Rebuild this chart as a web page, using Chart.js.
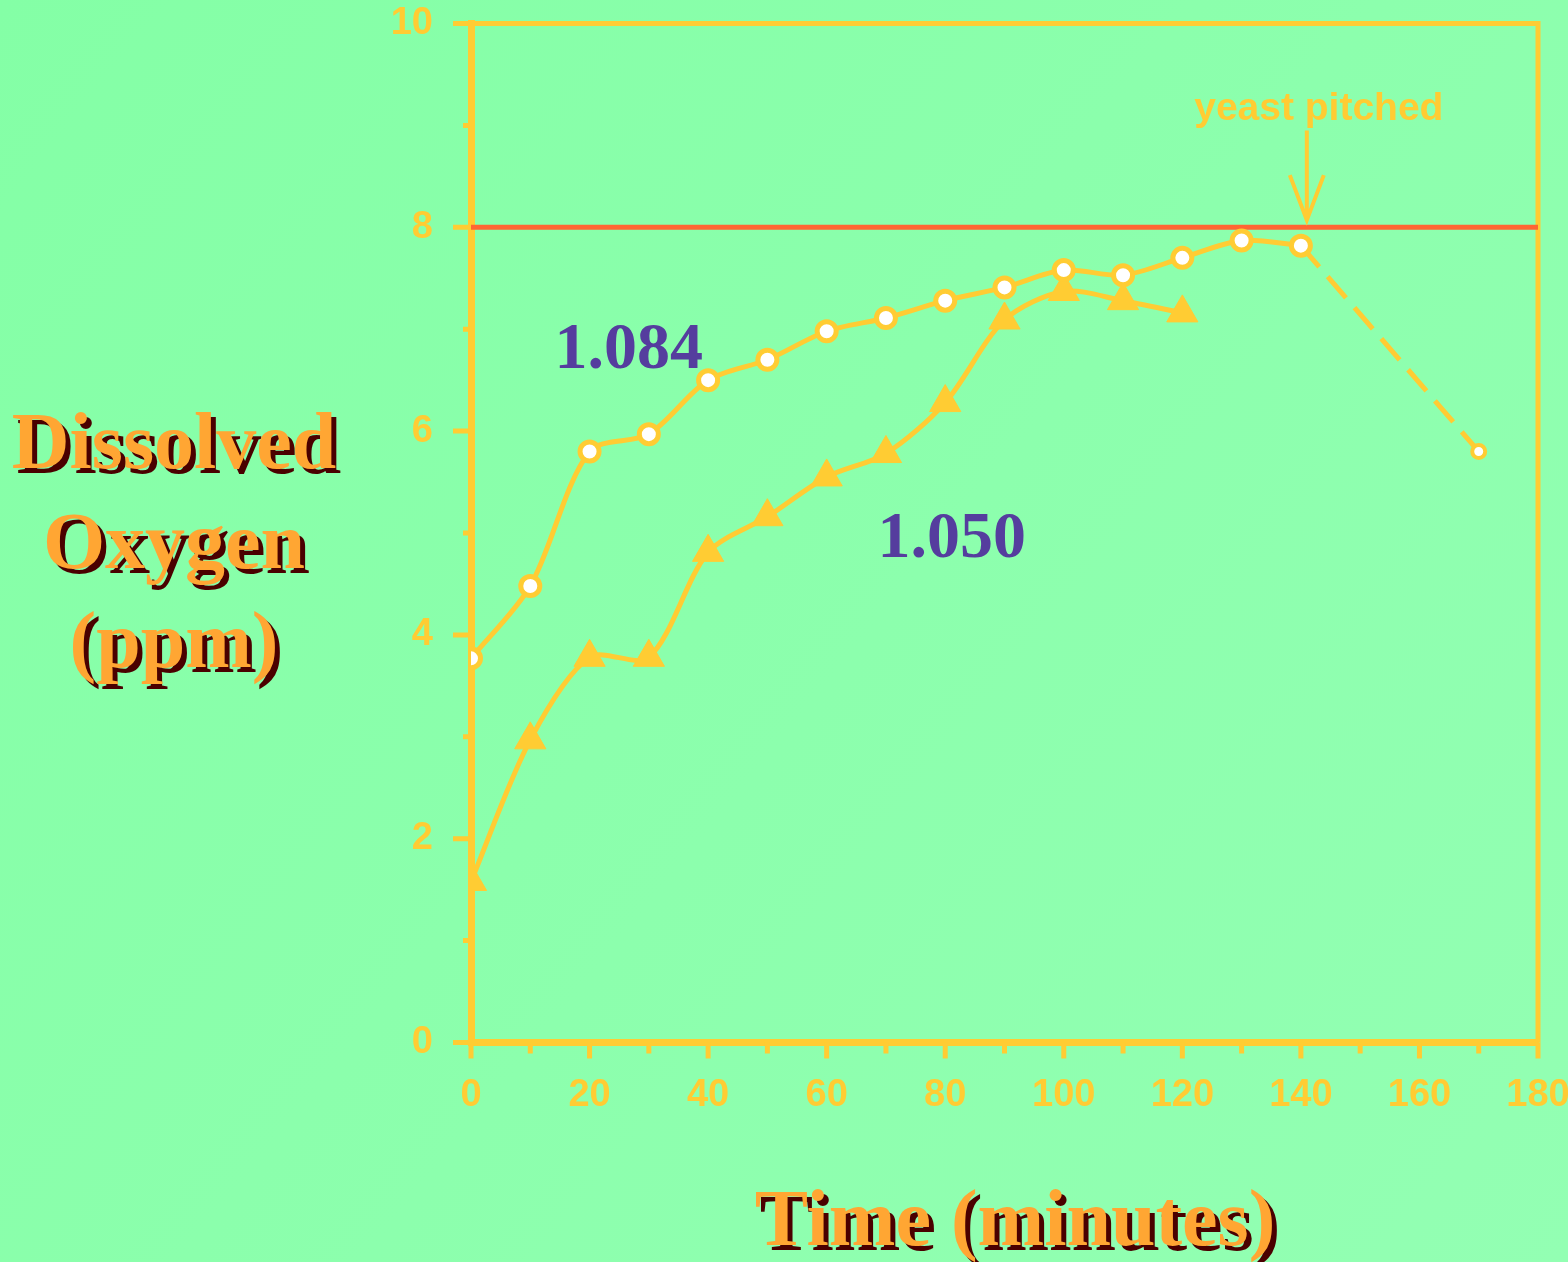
<!DOCTYPE html>
<html>
<head>
<meta charset="utf-8">
<script src="https://cdn.jsdelivr.net/npm/chart.js@4/dist/chart.umd.min.js"></script>
<style>
  html, body { margin: 0; padding: 0; background: #88ffa8; overflow: hidden; }
  canvas { display: block; }
</style>
</head>
<body>
<canvas id="c" width="1568" height="1262"></canvas>
<script>
// Dissolved oxygen during wort aeration, two worts (OG 1.084 and 1.050)
const minutes1084 = [0, 10, 20, 30, 40, 50, 60, 70, 80, 90, 100, 110, 120, 130, 140];
const oxygen1084  = [3.77, 4.48, 5.80, 5.97, 6.50, 6.70, 6.98, 7.11, 7.28, 7.41, 7.58, 7.53, 7.70, 7.87, 7.82];
// after pitching (1.084 wort)
const minutesPitched = [140, 170];
const oxygenPitched  = [7.82, 5.80];
const minutes1050 = [0, 10, 20, 30, 40, 50, 60, 70, 80, 90, 100, 110, 120];
const oxygen1050  = [1.58, 2.97, 3.78, 3.78, 4.81, 5.16, 5.55, 5.78, 6.28, 7.09, 7.37, 7.28, 7.16];
// saturation level
const saturationMinutes = [0, 180];
const saturationLevel   = [8, 8];

const xTickValues = [0, 20, 40, 60, 80, 100, 120, 140, 160, 180];
const xMinorTicks = [10, 30, 50, 70, 90, 110, 130, 150, 170];
const yTickValues = [0, 2, 4, 6, 8, 10];
const yMinorTicks = [1, 3, 5, 7, 9];

const seriesLabels = [
  { text: '1.084', x: 26.6, y: 6.62 },
  { text: '1.050', x: 81.1, y: 4.76 }
];
const pitchNote = { text: 'yeast pitched', x: 141, yText: 9.05, yFrom: 8.95, yTo: 8.07 };
const yTitle = ['Dissolved', 'Oxygen', '(ppm)'];
const xTitle = 'Time (minutes)';

const AXIS = '#ffcc33';
const RED = '#ff6633';
const TITLE = '#ffa633';
const SHADOW = '#4a0000';
const PURPLE = '#553d9e';
const SANS = '"Liberation Sans", Arial, sans-serif';
const SERIF = '"Liberation Serif", "Times New Roman", serif';

const pts = (xs, ys) => xs.map((x, i) => ({ x, y: ys[i] }));

const background = {
  id: 'background',
  beforeDraw(chart) {
    const { ctx, width, height } = chart;
    const g = ctx.createLinearGradient(0, 0, width, height);
    g.addColorStop(0, '#84ffa6');
    g.addColorStop(1, '#93ffb3');
    ctx.save();
    ctx.fillStyle = g;
    ctx.fillRect(0, 0, width, height);
    ctx.restore();
  }
};

const frame = {
  id: 'frame',
  beforeDatasetsDraw(chart) {
    const { ctx, chartArea: a } = chart;
    ctx.save();
    ctx.strokeStyle = AXIS;
    ctx.lineWidth = 5;
    ctx.beginPath();
    ctx.moveTo(a.left, a.top);
    ctx.lineTo(a.right, a.top);
    ctx.lineTo(a.right, a.bottom);
    ctx.stroke();
    // tick marks, long at labelled values, short in between
    const xs = chart.scales.x, ys = chart.scales.y;
    ctx.beginPath();
    xTickValues.forEach(v => { const p = xs.getPixelForValue(v); ctx.moveTo(p, a.bottom); ctx.lineTo(p, a.bottom + 16); });
    xMinorTicks.forEach(v => { const p = xs.getPixelForValue(v); ctx.moveTo(p, a.bottom); ctx.lineTo(p, a.bottom + 11); });
    yTickValues.forEach(v => { const p = ys.getPixelForValue(v); ctx.moveTo(a.left, p); ctx.lineTo(a.left - 18, p); });
    yMinorTicks.forEach(v => { const p = ys.getPixelForValue(v); ctx.moveTo(a.left, p); ctx.lineTo(a.left - 8, p); });
    ctx.stroke();
    ctx.restore();
  }
};

function shadowText(ctx, text, x, y) {
  ctx.fillStyle = SHADOW;
  ctx.fillText(text, x + 5, y + 5);
  ctx.fillStyle = TITLE;
  ctx.fillText(text, x, y);
}

const annotations = {
  id: 'annotations',
  afterDraw(chart) {
    const { ctx } = chart;
    const xs = chart.scales.x, ys = chart.scales.y;
    ctx.save();
    // series labels
    ctx.font = 'bold 66px ' + SERIF;
    ctx.fillStyle = PURPLE;
    ctx.textAlign = 'center';
    ctx.textBaseline = 'alphabetic';
    seriesLabels.forEach(l => ctx.fillText(l.text, xs.getPixelForValue(l.x), ys.getPixelForValue(l.y)));

    // pitching note with arrow
    const ax = xs.getPixelForValue(pitchNote.x);
    ctx.font = 'bold 39px ' + SANS;
    ctx.fillStyle = AXIS;
    ctx.fillText(pitchNote.text, ax + 12, ys.getPixelForValue(pitchNote.yText));
    const y0 = ys.getPixelForValue(pitchNote.yFrom), y1 = ys.getPixelForValue(pitchNote.yTo);
    ctx.strokeStyle = AXIS;
    ctx.lineWidth = 4;
    ctx.beginPath();
    ctx.moveTo(ax, y0); ctx.lineTo(ax, y1);
    ctx.moveTo(ax - 17, y1 - 45); ctx.lineTo(ax, y1); ctx.lineTo(ax + 17, y1 - 45);
    ctx.stroke();

    // axis titles
    ctx.font = 'bold 80px ' + SERIF;
    yTitle.forEach((t, i) => shadowText(ctx, t, 174, 468 + i * 99.5));
    shadowText(ctx, xTitle, 1015, 1245);
    ctx.restore();
  }
};

new Chart(document.getElementById('c'), {
  type: 'line',
  data: {
    datasets: [
      {
        label: 'saturation',
        data: pts(saturationMinutes, saturationLevel),
        borderColor: RED,
        borderWidth: 5,
        pointRadius: 0,
        order: 5
      },
      {
        label: '1.050',
        data: pts(minutes1050, oxygen1050),
        borderColor: AXIS,
        borderWidth: 5,
        tension: 0.3,
        pointStyle: 'triangle',
        pointRadius: 18,
        pointBorderWidth: 1,
        pointBackgroundColor: AXIS,
        pointBorderColor: AXIS,
        order: 2
      },
      {
        label: '1.084',
        data: pts(minutes1084, oxygen1084),
        borderColor: AXIS,
        borderWidth: 5,
        tension: 0.3,
        pointStyle: 'circle',
        pointRadius: 9.5,
        pointBorderWidth: 5,
        pointBackgroundColor: '#ffffff',
        pointBorderColor: AXIS,
        order: 1
      },
      {
        label: '1.084 pitched',
        data: pts(minutesPitched, oxygenPitched),
        borderColor: AXIS,
        borderWidth: 5,
        borderDash: [28, 13],
        tension: 0,
        pointStyle: 'circle',
        pointRadius: [0, 6.5],
        pointBorderWidth: 4,
        pointBackgroundColor: '#ffffff',
        pointBorderColor: AXIS,
        order: 3
      }
    ]
  },
  options: {
    responsive: false,
    animation: false,
    events: [],
    layout: { padding: { top: 23.5, right: 30, left: 0, bottom: 0 } },
    plugins: { legend: { display: false }, tooltip: { enabled: false }, title: { display: false } },
    scales: {
      x: {
        type: 'linear',
        min: 0, max: 180,
        afterBuildTicks: s => { s.ticks = xTickValues.map(v => ({ value: v })); },
        afterFit: s => { s.height = 219.5; s.paddingLeft = 0; s.paddingRight = 0; },
        grid: { display: true, drawOnChartArea: false, drawTicks: true, tickLength: 17, color: 'rgba(0,0,0,0)' },
        border: { display: true, color: AXIS, width: 7 },
        ticks: { color: AXIS, font: { family: SANS, size: 38, weight: 'bold' }, padding: 13, maxRotation: 0, autoSkip: false }
      },
      y: {
        type: 'linear',
        min: 0, max: 10,
        afterBuildTicks: s => { s.ticks = yTickValues.map(v => ({ value: v })); },
        afterFit: s => { s.width = 471; s.paddingTop = 0; s.paddingBottom = 0; },
        grid: { display: true, drawOnChartArea: false, drawTicks: true, tickLength: 17, color: 'rgba(0,0,0,0)' },
        border: { display: true, color: AXIS, width: 7 },
        ticks: { color: AXIS, font: { family: SANS, size: 38, weight: 'bold' }, padding: 21, autoSkip: false }
      }
    }
  },
  plugins: [background, frame, annotations]
});
</script>
</body>
</html>
